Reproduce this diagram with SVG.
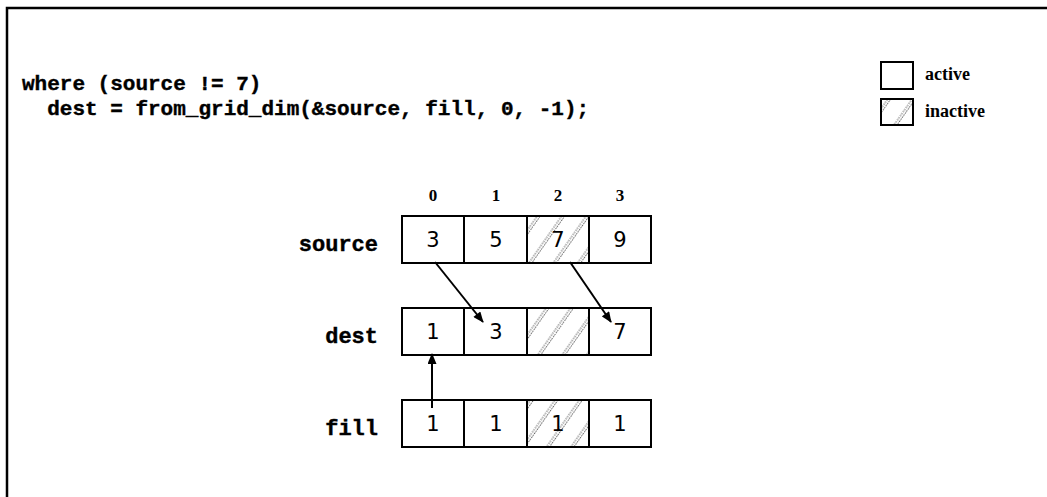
<svg xmlns="http://www.w3.org/2000/svg" width="1047" height="497" viewBox="0 0 1047 497">
<style>
.code{font-family:"Liberation Mono","Courier New",monospace;font-weight:bold;font-size:21px;fill:#000;stroke:#000;stroke-width:0.4}
.lbl{font-family:"Liberation Mono","Courier New",monospace;font-weight:bold;font-size:22px;fill:#000;stroke:#000;stroke-width:0.4;text-anchor:end}
.num{font-family:"DejaVu Sans","Liberation Sans",sans-serif;font-size:21px;fill:#000;text-anchor:middle}
.idx{font-family:"Liberation Serif","Times New Roman",serif;font-weight:bold;font-size:17px;fill:#000;text-anchor:middle}
.leg{font-family:"Liberation Serif","Times New Roman",serif;font-weight:bold;font-size:18px;fill:#000}
.cell{fill:#fff;stroke:#000;stroke-width:2}
.hcell{fill:url(#hatch);stroke:#000;stroke-width:2}
.arr{stroke:#000;stroke-width:2;fill:none;marker-end:url(#ah)}
</style>
<defs>
<pattern id="hatch" patternUnits="userSpaceOnUse" width="20" height="20" patternTransform="rotate(35)">
<rect width="20" height="20" fill="#fff"/>
<line x1="4" y1="0" x2="4" y2="20" stroke="#666" stroke-width="1" stroke-dasharray="1.5 1"/>
<line x1="6.5" y1="0" x2="6.5" y2="20" stroke="#666" stroke-width="1" stroke-dasharray="1.5 1"/>
</pattern>
<marker id="ah" viewBox="0 0 12 10" refX="11" refY="5" markerWidth="12" markerHeight="9" markerUnits="userSpaceOnUse" orient="auto">
<path d="M0,0 L12,5 L0,10 Z" fill="#000"/>
</marker>
</defs>
<rect width="1047" height="497" fill="#fff"/>
<path d="M7,497 L7,8 L1047,8" fill="none" stroke="#000" stroke-width="2.5"/>
<g id="code">
<text class="code" x="22" y="90" xml:space="preserve">where (source != 7)</text>
<text class="code" x="22" y="115" xml:space="preserve">  dest = from_grid_dim(&amp;source, fill, 0, -1);</text>
</g>
<g id="legend">
<rect class="cell" x="881" y="62" width="32" height="27"/>
<text class="leg" x="925" y="80">active</text>
<rect class="hcell" x="881" y="99" width="32" height="26"/>
<text class="leg" x="925" y="117">inactive</text>
</g>
<g id="indices">
<text class="idx" x="433" y="201">0</text>
<text class="idx" x="496" y="201">1</text>
<text class="idx" x="558" y="201">2</text>
<text class="idx" x="620" y="201">3</text>
</g>
<g id="source">
<text class="lbl" x="378" y="251">source</text>
<rect class="cell" x="402" y="216" width="62" height="47"/>
<rect class="cell" x="464" y="216" width="63" height="47"/>
<rect class="hcell" x="527" y="216" width="62" height="47"/>
<rect class="cell" x="589" y="216" width="62" height="47"/>
<text class="num" x="433" y="247">3</text>
<text class="num" x="496" y="247">5</text>
<text class="num" x="558" y="247">7</text>
<text class="num" x="620" y="247">9</text>
</g>
<g id="dest">
<text class="lbl" x="378" y="343">dest</text>
<rect class="cell" x="402" y="308" width="62" height="47"/>
<rect class="cell" x="464" y="308" width="63" height="47"/>
<rect class="hcell" x="527" y="308" width="62" height="47"/>
<rect class="cell" x="589" y="308" width="62" height="47"/>
<text class="num" x="433" y="339">1</text>
<text class="num" x="496" y="339">3</text>
<text class="num" x="620" y="339">7</text>
</g>
<g id="fill">
<text class="lbl" x="378" y="435">fill</text>
<rect class="cell" x="402" y="400" width="62" height="47"/>
<rect class="cell" x="464" y="400" width="63" height="47"/>
<rect class="hcell" x="527" y="400" width="62" height="47"/>
<rect class="cell" x="589" y="400" width="62" height="47"/>
<text class="num" x="433" y="431">1</text>
<text class="num" x="496" y="431">1</text>
<text class="num" x="558" y="431">1</text>
<text class="num" x="620" y="431">1</text>
</g>
<g id="connectors">
<line class="arr" x1="435" y1="262" x2="483" y2="322"/>
<line class="arr" x1="570" y1="262" x2="611" y2="322"/>
<line class="arr" x1="432" y1="408" x2="432" y2="354"/>
</g>
</svg>
